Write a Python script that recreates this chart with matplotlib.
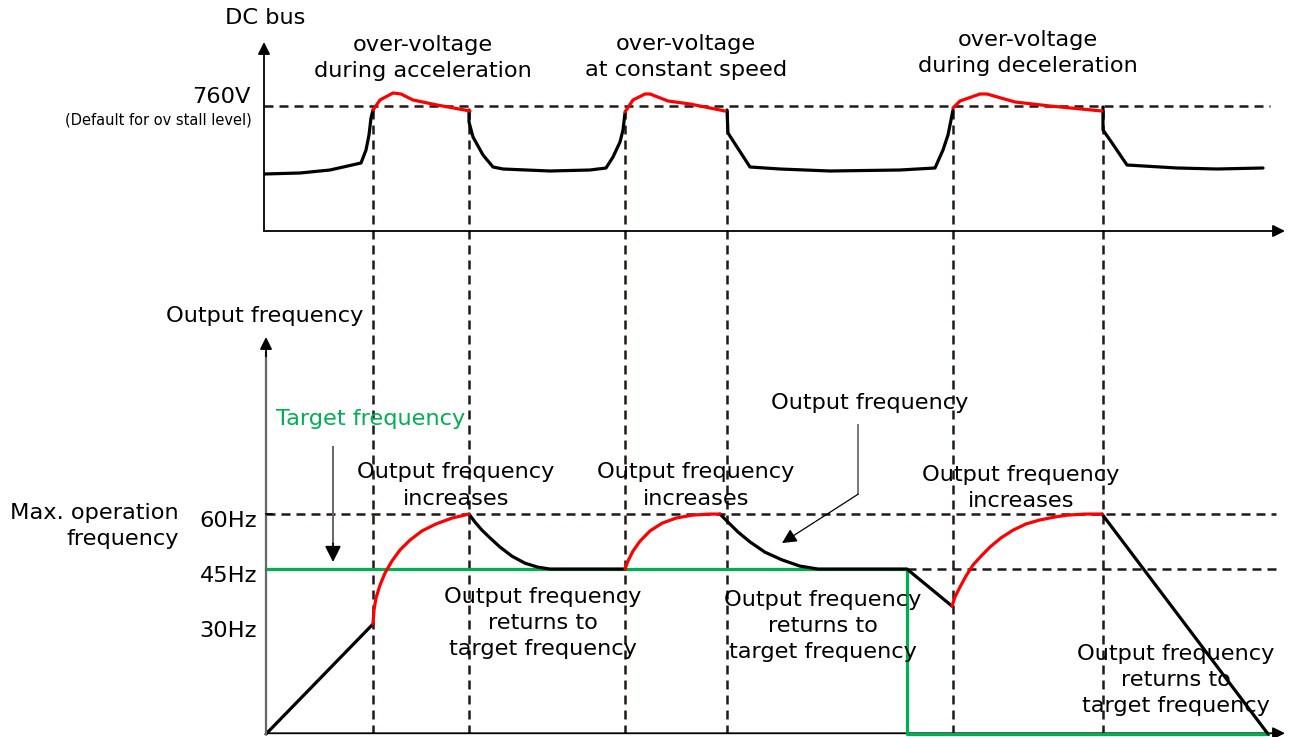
import matplotlib.pyplot as plt

# time axis is in arbitrary units (no scale shown on the chart)
# ---- DC bus voltage (V) ----
bus_t1 = [-2, 34, 64, 95, 100, 103, 105, 107]
bus_v1 = [692, 693, 696, 703, 716, 731, 748, 756]
ov_t1 = [107, 114, 127, 135, 147, 171, 204]
ov_v1 = [756, 766, 773, 772, 766, 761, 755]
bus_t2 = [203, 203, 207, 217, 227, 237, 284, 324, 340, 347, 354, 357, 359]
bus_v2 = [756, 744, 729, 711, 699, 697, 695, 696, 698, 709, 724, 736, 753]
ov_t2 = [359, 367, 379, 384, 402, 424, 459]
ov_v2 = [754, 766, 772, 772, 765, 762, 755]
bus_t3 = [461, 462, 471, 484, 514, 564, 634, 669, 677, 682, 687]
bus_v3 = [756, 733, 719, 699, 697, 695, 696, 698, 716, 731, 756]
ov_t3 = [687, 694, 714, 721, 749, 784, 836]
ov_v3 = [758, 765, 772, 772, 764, 760, 755]
bus_t4 = [837, 837, 844, 861, 911, 951, 997]
bus_v4 = [759, 736, 726, 701, 698, 697, 698]
ov_level = 760

# ---- output frequency (Hz) ----
ramp_t = [0, 107]
ramp_f = [0, 30]
inc_t1 = [107, 108, 110, 114, 119, 126, 134, 144, 156, 170, 186, 203]
inc_f1 = [30, 33.8, 37.1, 40.6, 43.9, 47.2, 50.2, 52.9, 55.4, 57.3, 58.9, 60]
dec_t1 = [203, 209, 216, 224, 234, 246, 259, 272, 284, 359]
dec_f1 = [60, 57.8, 55.6, 53.5, 51.0, 48.5, 46.6, 45.5, 45, 45]
inc_t2 = [359, 362, 367, 374, 384, 396, 410, 426, 444, 454]
inc_f2 = [45, 47.2, 49.9, 52.6, 55.4, 57.5, 58.9, 59.7, 60, 60]
dec_t2 = [454, 462, 472, 484, 499, 516, 534, 552, 566, 641, 686]
dec_f2 = [60, 57.8, 55.1, 52.4, 49.6, 47.5, 45.8, 45.0, 45, 45, 34.9]
inc_t3 = [686, 689, 694, 700, 707, 715, 724, 735, 747, 760, 774, 789, 801, 819, 836]
inc_f3 = [34.9, 37.4, 40.1, 43.1, 46.1, 48.5, 51.0, 53.5, 55.6, 57.3, 58.4, 59.2, 59.7, 60, 60]
dec_t3 = [836, 1002]
dec_f3 = [60, 0]
target_t = [0, 641, 641, 1002]
target_f = [45, 45, 0, 0]

freq_ticks = [60, 45, 30]
freq_labels = ['60Hz', '45Hz', '30Hz']
event_t = [107, 203, 359, 461, 687, 837]

RED = '#ff0000'
GREEN = '#00b050'
FS = 16.2
LS = 1.38

plt.rcParams['font.family'] = ['DejaVu Sans']
fig = plt.figure(figsize=(12.93, 7.37), dpi=100)

W, H = 1293, 737
ax1 = fig.add_axes([264 / W, 1 - 231 / H, 1029 / W, 231 / H])
ax1.set_xlim(-2, 1027)
ax1.set_ylim(635, 866)
ax1.axis('off')

ax2 = fig.add_axes([264 / W, 0, 1029 / W, 437 / H])
ax2.set_xlim(-2, 1027)
ax2.set_ylim(-0.82, 118.4)
ax2.axis('off')

dash = (0, (3.6, 2.4))
DCOL = '#231815'
DLW = 1.8
arrow = dict(arrowstyle='-|>', color='black', lw=1.3, mutation_scale=18, shrinkA=0, shrinkB=0)
line_kw = dict(lw=2.3, solid_capstyle='round', solid_joinstyle='round')

# top panel
for t, v in [(bus_t1, bus_v1), (bus_t2, bus_v2), (bus_t3, bus_v3), (bus_t4, bus_v4)]:
    ax1.plot(t, v, color='black', zorder=4, **line_kw)
for t, v in [(ov_t1, ov_v1), (ov_t2, ov_v2), (ov_t3, ov_v3)]:
    ax1.plot(t, v, color=RED, zorder=5, **line_kw)
ax1.plot([-2, 1004], [ov_level, ov_level], color=DCOL, lw=DLW, ls=dash, zorder=2)
for t in event_t:
    ax1.plot([t, t], [ov_level - 4, 133], color=DCOL, lw=DLW, ls=dash,
             clip_on=False, zorder=1)

ax1.annotate('', xy=(-2, 824), xytext=(-2, 635), arrowprops=arrow, annotation_clip=False)
ax1.annotate('', xy=(1019, 635), xytext=(-2, 635), arrowprops=arrow, annotation_clip=False)

ax1.text(-1, 848, 'DC bus', ha='center', va='center', fontsize=FS)
ax1.text(-16, 769, '760V', ha='right', va='center', fontsize=FS)
ax1.text(-14, 746, '(Default for ov stall level)', ha='right', va='center', fontsize=10.5)
ax1.text(157, 808, 'over-voltage\nduring acceleration', ha='center', va='center',
         fontsize=FS, linespacing=LS)
ax1.text(420, 809, 'over-voltage\nat constant speed', ha='center', va='center',
         fontsize=FS, linespacing=LS)
ax1.text(762, 813, 'over-voltage\nduring deceleration', ha='center', va='center',
         fontsize=FS, linespacing=LS)

# bottom panel
ax2.plot([0, 1010], [60, 60], color=DCOL, lw=DLW, ls=dash, zorder=1)
ax2.plot([641, 1010], [45, 45], color=DCOL, lw=DLW, ls=dash, zorder=1)
ax2.plot(target_t, target_f, color=GREEN, lw=2.3, zorder=3)
for t, f in [(ramp_t, ramp_f), (dec_t1, dec_f1), (dec_t2, dec_f2), (dec_t3, dec_f3)]:
    ax2.plot(t, f, color='black', zorder=4, **line_kw)
for t, f in [(inc_t1, inc_f1), (inc_t2, inc_f2), (inc_t3, inc_f3)]:
    ax2.plot(t, f, color=RED, zorder=5, **line_kw)

# y axis: grey line, black head
ax2.plot([0, 0], [0, 104], color='#666666', lw=1.6, zorder=6, clip_on=False)
ax2.annotate('', xy=(0, 108.3), xytext=(0, 103), arrowprops=arrow,
             annotation_clip=False, zorder=6)
ax2.annotate('', xy=(1019, 0.2), xytext=(0, 0.2), arrowprops=arrow,
             annotation_clip=False, zorder=2)
ax2.plot([0, 6], [60, 60], color='black', lw=1.2, zorder=6)

for f, lab in zip(freq_ticks, freq_labels):
    ax2.text(-9, f - 1.8, lab, ha='right', va='center', fontsize=FS)
ax2.text(-87, 56.7, 'Max. operation\nfrequency', ha='right', va='center',
         fontsize=FS, linespacing=LS, multialignment='right')
ax2.text(-1, 114.0, 'Output frequency', ha='center', va='center', fontsize=FS)
ax2.text(105, 85.9, 'Target frequency', ha='center', va='center', fontsize=FS, color=GREEN)
ax2.plot([67, 67], [78.3, 52], color='#666666', lw=1.4)
ax2.annotate('', xy=(67, 46.9), xytext=(67, 52), arrowprops=dict(arrow, mutation_scale=24))
ax2.text(604, 90.3, 'Output frequency', ha='center', va='center', fontsize=FS)
ax2.plot([592, 592], [84.3, 65.4], color='#777777', lw=1.4)
ax2.annotate('', xy=(516, 52.1), xytext=(592, 65.4),
             arrowprops=dict(arrow, lw=0.9, mutation_scale=22))

for t, f in [(190, 67.8), (430, 67.8), (755, 67.2)]:
    ax2.text(t, f, 'Output frequency\nincreases', ha='center', va='center',
             fontsize=FS, linespacing=LS)
for t, f in [(277, 30.3), (557, 29.5), (910, 14.7)]:
    ax2.text(t, f, 'Output frequency\nreturns to\ntarget frequency', ha='center',
             va='center', fontsize=FS, linespacing=LS)

fig.savefig('out.png', dpi=100)
